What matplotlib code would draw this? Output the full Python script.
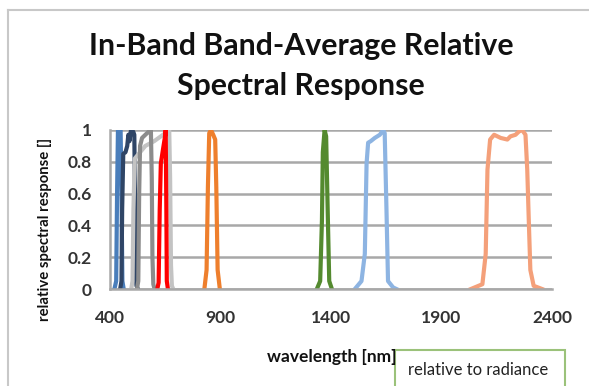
import matplotlib
matplotlib.use("Agg")
import matplotlib.pyplot as plt
from matplotlib.lines import Line2D
from matplotlib.patches import Rectangle

# band response curves (wavelength nm, relative response)
coastal_wl = [420, 428, 432, 436, 448, 452, 456, 462]
coastal_rsr = [0.0, 0.05, 0.6, 1.0, 1.0, 0.6, 0.05, 0.0]

blue_wl = [446, 452, 455, 460, 470, 478, 483, 488, 495, 505, 510, 513, 516, 520, 526]
blue_rsr = [0.0, 0.05, 0.5, 0.85, 0.86, 0.9, 0.97, 0.93, 1.0, 0.99, 0.97, 0.6, 0.1, 0.02, 0.0]

green_wl = [522, 528, 532, 536, 545, 560, 575, 585, 589, 592, 596, 602]
green_rsr = [0.0, 0.05, 0.6, 0.9, 0.95, 0.97, 0.99, 1.0, 0.7, 0.2, 0.03, 0.0]

red_wl = [614, 620, 625, 630, 640, 648, 652, 655, 657, 662]
red_rsr = [0.0, 0.04, 0.5, 0.79, 0.88, 0.95, 1.0, 0.5, 0.05, 0.0]

pan_wl = [496, 502, 506, 512, 530, 560, 600, 630, 660, 668, 672, 676, 680, 686]
pan_rsr = [0.0, 0.05, 0.5, 0.82, 0.85, 0.9, 0.93, 0.96, 0.99, 1.0, 0.7, 0.15, 0.02, 0.0]

nir_wl = [827, 837, 843, 849, 857, 867, 876, 881, 887, 897]
nir_rsr = [0.0, 0.12, 0.64, 0.98, 1.0, 0.97, 0.94, 0.64, 0.12, 0.0]

cirrus_wl = [1336, 1351, 1359, 1363, 1371, 1378, 1386, 1392, 1404]
cirrus_rsr = [0.0, 0.05, 0.43, 0.86, 1.0, 0.96, 0.43, 0.05, 0.0]

swir1_wl = [1508, 1538, 1553, 1561, 1568, 1580, 1598, 1621, 1636, 1643, 1651, 1658, 1681, 1696]
swir1_rsr = [0.0, 0.05, 0.22, 0.79, 0.92, 0.93, 0.95, 0.97, 1.0, 0.98, 0.5, 0.05, 0.01, 0.0]

swir2_wl = [2033, 2085, 2100, 2108, 2120, 2138, 2168, 2198, 2212, 2235, 2250, 2265, 2280, 2288, 2295, 2302, 2317, 2355]
swir2_rsr = [0.0, 0.03, 0.22, 0.75, 0.94, 0.97, 0.95, 0.94, 0.96, 0.97, 0.99, 1.0, 0.97, 0.75, 0.43, 0.12, 0.02, 0.0]

bands = [
    (coastal_wl, coastal_rsr, "#4a7ebb"),
    (blue_wl, blue_rsr, "#2f4566"),
    (pan_wl, pan_rsr, "#c3c3c3"),
    (green_wl, green_rsr, "#8c8c8c"),
    (red_wl, red_rsr, "#ff0000"),
    (nir_wl, nir_rsr, "#ee7f2d"),
    (cirrus_wl, cirrus_rsr, "#548a2f"),
    (swir1_wl, swir1_rsr, "#8db4e2"),
    (swir2_wl, swir2_rsr, "#f4a07a"),
]

x_ticks = [400, 900, 1400, 1900, 2400]
y_ticks = [0, 0.2, 0.4, 0.6, 0.8, 1]
y_tick_labels = ["0", "0.2", "0.4", "0.6", "0.8", "1"]

plt.rcParams['font.family'] = ['Lato', 'DejaVu Sans']

W, H = 589, 386
fig = plt.figure(figsize=(W / 100, H / 100), dpi=100)

# outer chart frame
fig.add_artist(Line2D([8 / W, 8 / W], [0, 1 - 10 / H], color="#c8c8c8", lw=1.5))
fig.add_artist(Line2D([8 / W, 1], [1 - 10 / H, 1 - 10 / H], color="#c8c8c8", lw=1.5))

ax = fig.add_axes([110 / W, 1 - 289 / H, 442 / W, 159 / H])
for wl, rsr, c in bands:
    ax.plot(wl, rsr, color=c, lw=3, solid_joinstyle="round")

ax.set_xlim(400, 2400)
ax.set_ylim(0, 1)
ax.set_xticks(x_ticks)
ax.set_yticks(y_ticks)
ax.set_yticklabels(y_tick_labels)
ax.tick_params(length=0, labelsize=12.5, colors="#333333")
ax.tick_params(axis="x", pad=15)
ax.tick_params(axis="y", pad=13)
for lab in ax.get_xticklabels() + ax.get_yticklabels():
    lab.set_fontweight("bold")
ax.grid(axis="y", color="#a8a8a8", lw=1.8)
ax.set_axisbelow(True)
for s in ["top", "right"]:
    ax.spines[s].set_visible(False)
for s in ["left", "bottom"]:
    ax.spines[s].set_color("#a8a8a8")
    ax.spines[s].set_linewidth(1.8)

fig.text(301 / W, 1 - 46 / H, "In-Band Band-Average Relative", ha="center", va="center",
         fontsize=21.8, fontweight="bold", color="#111111")
fig.text(301 / W, 1 - 86 / H, "Spectral Response", ha="center", va="center",
         fontsize=21.8, fontweight="bold", color="#111111")

fig.text(45 / W, 1 - 229 / H, "relative spectral response []", rotation=90, ha="center", va="center",
         fontsize=10.7, fontweight="bold", color="#111111")
fig.text(332 / W, 1 - 357 / H, "wavelength [nm]", ha="center", va="center",
         fontsize=12.5, fontweight="bold", color="#111111")

# legend box
fig.add_artist(Rectangle((395 / W, -0.05), 170 / W, 0.05 + 36 / H, transform=fig.transFigure,
                         fill=False, edgecolor="#9bc27a", lw=1.5))
fig.text(478 / W, 1 - 370 / H, "relative to radiance", ha="center", va="center",
         fontsize=12, color="#222222")

fig.savefig("out.png", dpi=100)
